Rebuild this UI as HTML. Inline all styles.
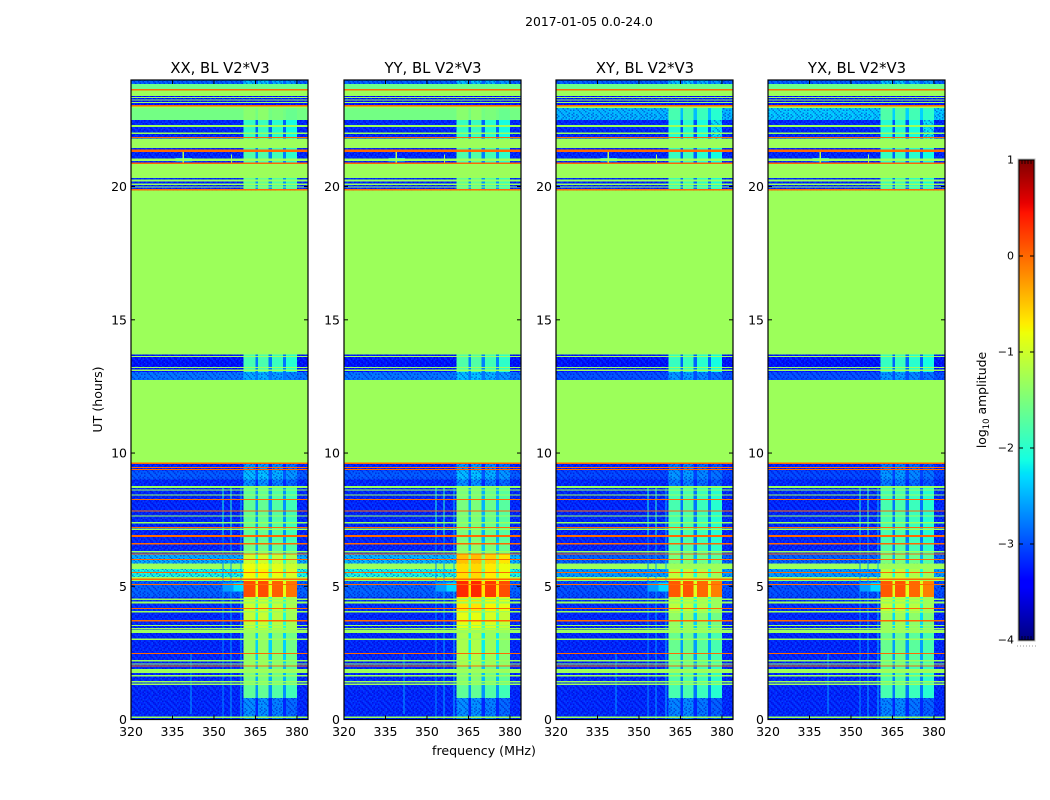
<!DOCTYPE html>
<html>
<head>
<meta charset="utf-8">
<title>2017-01-05 dynamic spectrum</title>
<style>
html,body{margin:0;padding:0;background:#fff;width:1050px;height:800px;overflow:hidden}
svg{display:block}
text{font-family:"DejaVu Sans","Liberation Sans",sans-serif;fill:#000}
</style>
</head>
<body>
<svg id="figure" xmlns="http://www.w3.org/2000/svg" width="1050" height="800" viewBox="0 0 1050 800">
  <defs id="defs"></defs>
  <text x="589" y="26" font-size="12.4" text-anchor="middle">2017-01-05 0.0-24.0</text>
  <text x="102" y="399.500" font-size="12.6" text-anchor="middle" transform="rotate(-90 102 399.500)">UT (hours)</text>
  <text x="484" y="755" font-size="12.6" text-anchor="middle">frequency (MHz)</text>
  <text x="986" y="400" font-size="12.4" text-anchor="middle" transform="rotate(-90 986 400)">log<tspan font-size="8.5" dy="3">10</tspan><tspan dy="-3"> amplitude</tspan></text>
  <g id="panels"></g>
  <g id="colorbar"></g>
</svg>
<script>
// ---- chart data (hours, MHz, log10 amplitude) ----
const panelTitles = ['XX, BL V2*V3', 'YY, BL V2*V3', 'XY, BL V2*V3', 'YX, BL V2*V3'];
const freqTicks = [320, 335, 350, 365, 380];
const hourTicks = [0, 5, 10, 15, 20];
const colorbarTicks = [1, 0, -1, -2, -3, -4];

const bandStart = [0, 0.8, 1.3, 2.0, 3.3, 4.0, 4.6, 5.2, 5.35, 5.65, 5.85, 6.2, 6.7, 8.7, 9.0, 9.35, 9.6, 12.75, 13.05, 13.7, 19.85, 20.4, 20.9, 21.45, 21.8, 22.5, 22.95, 23.05, 23.4, 23.65, 23.85];
const bandEnd = [0.8, 1.3, 2.0, 3.3, 4.0, 4.6, 5.2, 5.35, 5.65, 5.85, 6.2, 6.7, 8.7, 9.0, 9.35, 9.6, 12.75, 13.05, 13.7, 19.85, 20.4, 20.9, 21.45, 21.8, 22.5, 22.95, 23.05, 23.4, 23.65, 23.85, 24];

const baseXX = [-3.2, -3.2, -3.2, -3.2, -3.2, -3.15, -2.9, -1.3, -2.1, -1.3, -2.5, -3.2, -3.2, -3.2, -2.95, -3.2, -1.3, -2.8, -3.3, -1.3, -3.2, -1.3, -3.2, -1.3, -3.2, -1.55, -1.3, -3.3, -1.3, -1.6, -2.9];
const baseYY = [-3.2, -3.2, -3.2, -3.2, -3.2, -3.15, -2.9, -1.3, -2.1, -1.3, -2.45, -3.2, -3.2, -3.2, -2.95, -3.2, -1.3, -2.8, -3.3, -1.3, -3.2, -1.3, -3.2, -1.3, -3.2, -1.55, -1.3, -3.3, -1.3, -1.6, -2.9];
const baseXY = [-3.2, -3.2, -3.2, -3.2, -3.2, -3.15, -3.0, -1.3, -2.6, -1.3, -2.9, -3.2, -3.2, -3.2, -3.05, -3.2, -1.3, -3.0, -3.3, -1.3, -3.2, -1.3, -3.2, -1.3, -3.2, -2.45, -1.3, -3.3, -1.3, -1.6, -2.9];
const baseYX = [-3.2, -3.2, -3.2, -3.2, -3.2, -3.15, -3.0, -1.3, -2.6, -1.3, -2.9, -3.2, -3.2, -3.2, -3.05, -3.2, -1.3, -3.0, -3.3, -1.3, -3.2, -1.3, -3.2, -1.3, -3.2, -2.35, -1.3, -3.3, -1.3, -1.6, -2.9];

const activeXX = [-2.75, -1.75, -1.6, -1.45, -1.15, -1.1, 0.05, -0.9, -0.85, -0.9, -1.1, -1.65, -1.75, -2.75, -2.5, -2.7, -1.3, -2.6, -1.9, -1.3, -1.75, -1.3, -1.85, -1.3, -2.0, -1.5, -1.3, -3.3, -1.3, -1.6, -2.5];
const activeYY = [-2.75, -1.75, -1.55, -1.3, -0.95, -0.75, 0.25, -0.7, -0.7, -0.7, -0.55, -1.5, -1.6, -2.75, -2.5, -2.7, -1.3, -2.5, -1.85, -1.3, -1.75, -1.3, -1.85, -1.3, -2.0, -1.5, -1.3, -3.3, -1.3, -1.6, -2.5];
const activeXY = [-2.8, -1.9, -1.85, -1.7, -1.45, -1.2, 0.0, -1.1, -1.2, -1.3, -1.6, -1.85, -1.9, -2.85, -2.7, -2.85, -1.3, -2.7, -2.0, -1.3, -1.95, -1.3, -2.0, -1.3, -2.1, -1.9, -1.3, -3.3, -1.3, -1.6, -2.5];
const activeYX = [-2.8, -1.9, -1.85, -1.7, -1.4, -1.15, 0.0, -1.1, -1.2, -1.3, -1.6, -1.85, -1.9, -2.85, -2.7, -2.85, -1.3, -2.7, -2.0, -1.3, -1.95, -1.3, -2.0, -1.3, -2.1, -1.85, -1.3, -3.3, -1.3, -1.6, -2.5];

const columnStart = [360.6, 366.0, 371.0, 376.1];
const columnEnd = [365.0, 369.8, 375.0, 380.0];
const columnOffset = [0.08, 0.1, 0, -0.12];
const gapStart = [365.0, 369.8, 375.0];
const gapEnd = [366.0, 371.0, 376.1];

const flagHours = [23.35, 23.25, 23.15, 22.27, 22.0, 21.0, 20.36, 20.23, 20.09, 19.98, 13.62, 13.21, 13.11, 8.72, 8.61, 8.42, 7.64, 7.38, 7.14, 6.3, 4.51, 4.39, 4.05, 3.52, 3.42, 3.32, 3.01, 2.21, 2.08, 1.82, 1.64, 1.42, 1.32, 0.08];
const flagSpan = [0.04, 0.04, 0.04, 0.07, 0.05, 0.09, 0.08, 0.08, 0.05, 0.03, 0.04, 0.05, 0.05, 0.08, 0.04, 0.04, 0.05, 0.05, 0.05, 0.05, 0.05, 0.07, 0.05, 0.04, 0.04, 0.13, 0.05, 0.05, 0.05, 0.14, 0.05, 0.06, 0.05, 0.05];
const rfiHours = [23.63, 23.03, 21.84, 21.35, 20.87, 19.88, 9.61, 9.46, 9.39, 8.26, 7.83, 7.2, 6.89, 6.59, 6.21, 6.01, 5.52, 5.26, 5.06, 4.17, 3.71, 2.48, 2.01];
const rfiSpan = [0.06, 0.05, 0.05, 0.09, 0.05, 0.04, 0.06, 0.04, 0.04, 0.04, 0.04, 0.04, 0.07, 0.05, 0.04, 0.04, 0.04, 0.05, 0.04, 0.04, 0.05, 0.04, 0.05];

const patchFreqStart = [341.5, 353.1, 355.9, 359.6, 353, 357, 336, 338.7, 354.5, 356.1, 353.1, 355.9];
const patchFreqEnd = [341.9, 353.5, 356.3, 360.0, 357, 360.6, 342, 339.1, 358, 356.5, 353.5, 356.3];
const patchHourStart = [0.2, 0, 0, 0, 4.8, 4.8, 20.95, 20.9, 20.98, 20.9, 6.9, 6.9];
const patchHourEnd = [2.5, 6.9, 6.9, 8.7, 5.15, 5.15, 21.08, 21.3, 21.05, 21.2, 8.7, 8.7];
const patchLevel = [-2.6, -2.7, -2.6, -2.5, -2.6, -2.3, -2.3, -1.2, -2.4, -1.3, -2.1, -2.0];

// hand-picked speckle tile: -1 darker, 0 none, 1 lighter
const speckleTile = [
  [0, 1, -1, 0, 0, -1, 1, 0, -1, 0, 1, 0, -1],
  [-1, 0, 0, 1, -1, 0, 0, -1, 1, 0, 0, -1, 0],
  [1, 0, -1, 0, 1, 0, -1, 0, 0, 1, -1, 0, 1],
  [0, -1, 1, 0, 0, -1, 0, 1, -1, 0, 0, 1, -1],
  [-1, 0, 0, -1, 1, 0, 1, 0, 0, -1, 1, 0, 0],
  [0, 1, 0, 1, -1, 0, -1, 0, 1, 0, -1, 0, 1],
  [1, -1, 0, 0, 0, 1, 0, -1, 0, 1, 0, -1, 0],
  [0, 0, 1, -1, 0, -1, 1, 0, -1, 0, 1, 0, -1],
  [-1, 1, 0, 0, 1, 0, 0, 1, 0, -1, 0, 1, 0],
  [0, 0, -1, 1, 0, -1, 0, 0, 1, 0, -1, 0, 1],
  [1, -1, 0, 0, -1, 1, 0, -1, 0, 0, 1, -1, 0]
];

const baseByPanel = [baseXX, baseYY, baseXY, baseYX];
const activeByPanel = [activeXX, activeYY, activeXY, activeYX];
const panelLeft = [131, 344, 556, 768];

// ---- scales ----
const FREQ_MIN = 320, FREQ_MAX = 384, HOUR_MAX = 24;
const AX_W = 177, AX_TOP = 80, AX_BOTTOM = 719.5;
const CB_X = 1019, CB_W = 15, CB_TOP = 160, CB_BOTTOM = 640, LEVEL_MIN = -4, LEVEL_MAX = 1;
function xScale(left, f) { return left + (f - FREQ_MIN) * AX_W / (FREQ_MAX - FREQ_MIN); }
function yScale(h) { return AX_BOTTOM - h * (AX_BOTTOM - AX_TOP) / HOUR_MAX; }
function cbScale(v) { return CB_BOTTOM - (v - LEVEL_MIN) * (CB_BOTTOM - CB_TOP) / (LEVEL_MAX - LEVEL_MIN); }

function interp(pts, t) {
  for (let i = 1; i < pts.length; i++) {
    if (t <= pts[i][0]) {
      const a = pts[i - 1], b = pts[i];
      return a[1] + (b[1] - a[1]) * (t - a[0]) / (b[0] - a[0]);
    }
  }
  return pts[pts.length - 1][1];
}
function jet(t) {
  t = Math.max(0, Math.min(1, t));
  const r = interp([[0, 0], [0.35, 0], [0.66, 1], [0.89, 1], [1, 0.5]], t);
  const g = interp([[0, 0], [0.125, 0], [0.375, 1], [0.64, 1], [0.91, 0], [1, 0]], t);
  const b = interp([[0, 0.5], [0.11, 1], [0.34, 1], [0.65, 0], [1, 0]], t);
  return 'rgb(' + Math.round(r * 255) + ',' + Math.round(g * 255) + ',' + Math.round(b * 255) + ')';
}
function levelColor(v) { return jet((v - LEVEL_MIN) / (LEVEL_MAX - LEVEL_MIN)); }

const NS = 'http://www.w3.org/2000/svg';
function make(tag, parent, attrs) {
  const el = document.createElementNS(NS, tag);
  for (const k in attrs) el.setAttribute(k, attrs[k]);
  parent.appendChild(el);
  return el;
}
function cell(parent, left, f0, f1, h0, h1, level) {
  const x0 = xScale(left, f0), x1 = xScale(left, f1), y0 = yScale(h1), y1 = yScale(h0);
  return make('rect', parent, { x: x0, y: y0, width: x1 - x0, height: y1 - y0, fill: levelColor(level), 'shape-rendering': 'crispEdges' });
}
function speckleCell(parent, left, f0, f1, h0, h1) {
  const x0 = xScale(left, f0), x1 = xScale(left, f1), y0 = yScale(h1), y1 = yScale(h0);
  return make('rect', parent, { x: x0, y: y0, width: x1 - x0, height: y1 - y0, fill: 'url(#speckle)' });
}

// speckle pattern built from the tile
const SPECKLE = 1.5;
const speckle = make('pattern', document.getElementById('defs'), {
  id: 'speckle', patternUnits: 'userSpaceOnUse',
  width: speckleTile[0].length * SPECKLE, height: speckleTile.length * SPECKLE
});
speckleTile.forEach(function (row, r) {
  row.forEach(function (v, c) {
    if (v === 0) return;
    make('rect', speckle, {
      x: c * SPECKLE, y: r * SPECKLE, width: SPECKLE, height: SPECKLE,
      fill: v > 0 ? 'rgba(0,130,255,0.3)' : 'rgba(0,0,190,0.45)'
    });
  });
});

const panelsRoot = document.getElementById('panels');
panelTitles.forEach(function (title, p) {
  const left = panelLeft[p], base = baseByPanel[p], active = activeByPanel[p];
  const g = make('g', panelsRoot, {});
  
  

  bandStart.forEach(function (h0, i) {
    const h1 = bandEnd[i];
    const bandRect = cell(g, left, FREQ_MIN, FREQ_MAX, h0, h1, base[i]);
    
    
    if (base[i] < -2) {
      const noise = speckleCell(g, left, FREQ_MIN, FREQ_MAX, h0, h1);
      
      
    }
    columnStart.forEach(function (f0, c) {
      const lvl = active[i] === base[i] ? base[i] : active[i] + columnOffset[c];
      const colRect = cell(g, left, f0, columnEnd[c], h0, h1, lvl);
      
      
      if (lvl < -2.2) {
        const colNoise = speckleCell(g, left, f0, columnEnd[c], h0, h1);
        
        
      }
    });
    gapStart.forEach(function (f0, c) {
      const lvl = Math.max(base[i], active[i] - 0.9);
      const gapRect = cell(g, left, f0, gapEnd[c], h0, h1, lvl);
      
      
    });
  });

  patchFreqStart.forEach(function (f0, i) {
    const patch = cell(g, left, f0, patchFreqEnd[i], patchHourStart[i], patchHourEnd[i], patchLevel[i]);
    
    
  });
  flagHours.forEach(function (h, i) {
    const line = cell(g, left, FREQ_MIN, FREQ_MAX, h - flagSpan[i] / 2, h + flagSpan[i] / 2, -1.3);
    
    
  });
  rfiHours.forEach(function (h, i) {
    const line = cell(g, left, FREQ_MIN, FREQ_MAX, h - rfiSpan[i] / 2, h + rfiSpan[i] / 2, 0);
    
    
  });

  const frame = make('rect', g, { x: left, y: AX_TOP, width: AX_W, height: AX_BOTTOM - AX_TOP, fill: 'none', stroke: '#000', 'stroke-width': 1.2 });
  
  

  freqTicks.forEach(function (f) {
    const x = xScale(left, f);
    const tickB = make('line', g, { x1: x, x2: x, y1: AX_BOTTOM, y2: AX_BOTTOM - 4, stroke: '#000', 'stroke-width': 1 });
    
    
    const tickT = make('line', g, { x1: x, x2: x, y1: AX_TOP, y2: AX_TOP + 4, stroke: '#000', 'stroke-width': 1 });
    
    
    const lab = make('text', g, { x: x, y: 736, 'font-size': 12.5, 'text-anchor': 'middle' });
    lab.textContent = String(f);
    
    
  });
  hourTicks.forEach(function (h) {
    const y = yScale(h);
    const tickL = make('line', g, { x1: left, x2: left + 4, y1: y, y2: y, stroke: '#000', 'stroke-width': 1 });
    
    
    const tickR = make('line', g, { x1: left + AX_W, x2: left + AX_W - 4, y1: y, y2: y, stroke: '#000', 'stroke-width': 1 });
    
    
    const lab = make('text', g, { x: left - 4, y: y + 4.5, 'font-size': 12.5, 'text-anchor': 'end' });
    lab.textContent = String(h);
    
    
  });

  const t = make('text', g, { x: left + AX_W / 2 + 0.5, y: 73, 'font-size': 14.8, 'text-anchor': 'middle' });
  t.textContent = title;
  
  
});

// ---- colorbar ----
const cb = document.getElementById('colorbar');
const outer = make('rect', cb, { x: CB_X - 1, y: CB_TOP - 1, width: CB_W + 2, height: CB_BOTTOM - CB_TOP + 2, fill: 'none', stroke: '#bbb', 'stroke-width': 1 });


for (let y = CB_TOP; y < CB_BOTTOM; y++) {
  const strip = make('rect', cb, { x: CB_X, y: y, width: CB_W, height: 1, fill: jet((CB_BOTTOM - y - 0.5) / (CB_BOTTOM - CB_TOP)), 'shape-rendering': 'crispEdges' });
  
  
}
const cbFrame = make('rect', cb, { x: CB_X, y: CB_TOP, width: CB_W, height: CB_BOTTOM - CB_TOP, fill: 'none', stroke: '#000', 'stroke-width': 1 });


colorbarTicks.forEach(function (v) {
  const y = cbScale(v);
  if (v < LEVEL_MAX && v > LEVEL_MIN) {
    const tl = make('line', cb, { x1: CB_X, x2: CB_X + 4, y1: y, y2: y, stroke: '#000', 'stroke-width': 1 });
    
    
    const tr = make('line', cb, { x1: CB_X + CB_W, x2: CB_X + CB_W - 4, y1: y, y2: y, stroke: '#000', 'stroke-width': 1 });
    
    
  }
  const lab = make('text', cb, { x: 1014, y: y + 3.5, 'font-size': 11, 'text-anchor': 'end' });
  lab.textContent = (v < 0 ? '\u2212' : '') + Math.abs(v);
  
  
});
[0, 1].forEach(function (end) {
  for (let x = CB_X + 3; x < CB_X + CB_W; x += 3) {
    const y0 = end ? CB_TOP : CB_BOTTOM;
    const m = make('line', cb, { x1: x, x2: x, y1: y0, y2: end ? y0 + 4 : y0 - 4, stroke: '#000', 'stroke-width': 0.8 });
    
    
  }
});
const dots = make('line', cb, { x1: 1017, x2: 1036, y1: 646, y2: 646, stroke: '#999', 'stroke-width': 1, 'stroke-dasharray': '1 2' });


</script>
</body>
</html>
